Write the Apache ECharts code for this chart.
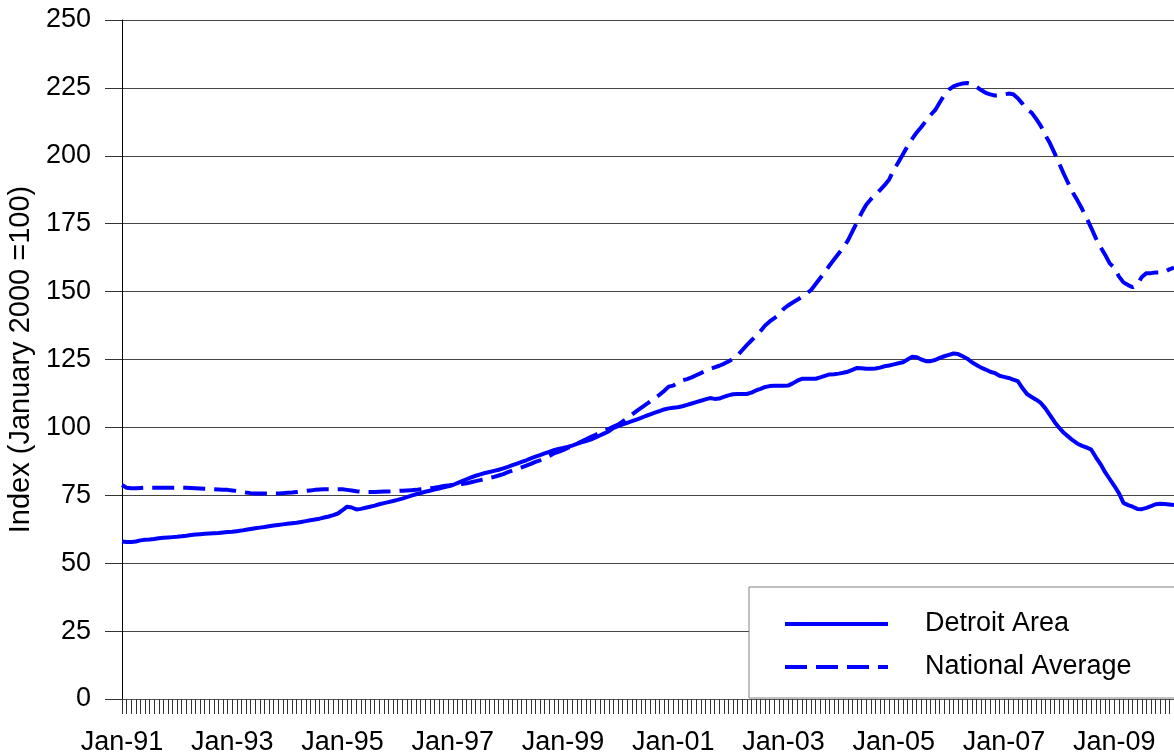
<!DOCTYPE html>
<html>
<head>
    <title>Detroit vs National home price index</title>
    <meta charset="utf-8"/>
    <script type="text/javascript" src="https://cdn.jsdelivr.net/npm/echarts@6/dist/echarts.min.js"></script>
    <style>
        html, body { margin: 0; padding: 0; background: #fff; }
        #chart { width: 1174px; height: 755px; }
    </style>
</head>
<body>
<div id="chart"></div>
<script type="text/javascript">
// month names and years used to build the category labels (Jan-91 .. Feb-10)
var monthNames = ['Jan', 'Feb', 'Mar', 'Apr', 'May', 'Jun', 'Jul', 'Aug', 'Sep', 'Oct', 'Nov', 'Dec'];
var firstYear = 1991;
var monthCount = 230;

// Detroit Area index, monthly
var detroitArea = [
    58.0, 57.8, 57.8, 58.0, 58.4, 58.6, 58.7, 58.9, 59.2, 59.4, 59.5, 59.6,
    59.7, 59.9, 60.1, 60.4, 60.6, 60.7, 60.8, 60.9, 61.0, 61.1, 61.3, 61.5,
    61.6, 61.8, 62.0, 62.3, 62.6, 62.9, 63.1, 63.3, 63.6, 63.9, 64.1, 64.3,
    64.5, 64.7, 64.9, 65.2, 65.5, 65.8, 66.1, 66.4, 66.8, 67.2, 67.7, 68.3,
    69.5, 70.8, 70.5, 69.8, 70.0, 70.4, 70.8, 71.2, 71.7, 72.1, 72.5, 72.9,
    73.3, 73.8, 74.3, 74.9, 75.4, 75.8, 76.3, 76.7, 77.1, 77.5, 77.9, 78.3,
    78.8, 79.5, 80.2, 80.9, 81.6, 82.2, 82.7, 83.2, 83.6, 84.0, 84.4, 84.9,
    85.5, 86.1, 86.7, 87.3, 87.9, 88.6, 89.2, 89.8, 90.4, 91.0, 91.6, 92.1,
    92.4, 92.8, 93.3, 93.9, 94.5, 95.0, 95.5, 96.2, 97.0, 97.8, 98.6, 99.8,
    100.5, 101.1, 101.7, 102.3, 102.9, 103.5, 104.2, 104.8, 105.4, 106.0, 106.6, 107.0,
    107.2, 107.4, 107.8, 108.3, 108.8, 109.3, 109.8, 110.3, 110.8, 110.5, 110.6, 111.2,
    111.8, 112.2, 112.3, 112.3, 112.3, 112.8, 113.6, 114.2, 114.9, 115.2, 115.3, 115.3,
    115.3, 115.4, 116.2, 117.2, 117.9, 117.9, 117.9, 117.9, 118.4, 119.0, 119.5, 119.6,
    119.8, 120.1, 120.5, 121.2, 121.9, 121.8, 121.6, 121.6, 121.7, 122.0, 122.5, 122.8,
    123.2, 123.6, 124.0, 125.0, 126.0, 125.8, 125.0, 124.4, 124.4, 124.8, 125.6, 126.2,
    126.7, 127.2, 127.0, 126.2, 125.3, 124.0, 123.0, 122.0, 121.3, 120.5, 120.0, 119.0,
    118.6, 118.2, 117.6, 117.0, 114.5, 112.3, 111.2, 110.2, 109.0, 107.0, 104.5, 102.0,
    99.9, 98.0, 96.6, 95.2, 94.0, 93.2, 92.6, 91.8, 89.0, 86.5, 83.5, 81.0,
    78.5, 75.8, 72.2, 71.4, 70.8, 70.0, 69.9, 70.4, 71.0, 71.7, 71.9, 71.8,
    71.6, 71.4
];

// National Average index, monthly
var nationalAverage = [
    78.8, 77.8, 77.6, 77.6, 77.7, 77.8, 77.8, 77.8, 77.8, 77.8, 77.8, 77.8,
    77.8, 77.8, 77.8, 77.7, 77.6, 77.5, 77.4, 77.3, 77.2, 77.1, 77.0, 77.0,
    76.8, 76.6, 76.3, 76.0, 75.8, 75.7, 75.7, 75.7, 75.7, 75.7, 75.7, 75.8,
    75.9, 76.0, 76.2, 76.4, 76.6, 76.8, 77.0, 77.1, 77.2, 77.2, 77.2, 77.2,
    77.2, 77.0, 76.8, 76.5, 76.3, 76.2, 76.2, 76.2, 76.3, 76.4, 76.4, 76.5,
    76.6, 76.7, 76.8, 76.9, 77.0, 77.2, 77.4, 77.6, 77.8, 78.1, 78.4, 78.6,
    78.8, 79.0, 79.2, 79.4, 79.8, 80.2, 80.6, 81.0, 81.4, 81.8, 82.3, 82.8,
    83.5, 84.1, 84.7, 85.3, 85.9, 86.6, 87.3, 87.9, 88.6, 89.5, 90.4, 91.0,
    91.6, 92.4, 93.2, 94.0, 94.8, 95.6, 96.4, 97.2, 98.0, 98.8, 99.5, 100.3,
    101.0, 102.2, 103.4, 104.7, 106.0, 107.2, 108.4, 109.6, 110.8, 112.0, 113.4, 115.0,
    115.4, 116.5, 117.3, 117.8, 118.4, 119.2, 120.0, 120.8, 121.5, 122.1, 122.7, 123.4,
    124.3, 125.2, 126.5, 128.4, 130.3, 132.0, 133.7, 135.5, 137.5, 139.0, 140.2, 141.5,
    143.6, 144.9, 146.0, 147.0, 148.0, 149.2, 150.6, 152.8, 155.0, 157.2, 159.6, 161.8,
    164.0, 166.2, 168.8, 172.2, 175.5, 179.0, 182.0, 184.0, 185.6, 187.4, 189.2, 191.3,
    194.8, 197.6, 200.6, 203.6, 206.2, 208.6, 210.6, 212.8, 215.0, 216.8, 219.6, 222.4,
    224.4, 225.6, 226.2, 226.6, 226.8, 226.4, 225.4, 224.2, 223.2, 222.6, 222.2, 222.3,
    222.6, 222.9, 222.7, 221.2, 219.2, 217.0, 215.9, 213.6, 211.0, 207.6, 204.6, 201.0,
    197.2, 193.4, 189.8, 186.4, 183.5, 180.4, 177.0, 173.4, 169.6, 166.4, 163.6, 160.4,
    158.8, 155.6, 153.4, 152.4, 151.6, 152.6, 155.4, 156.8, 156.8, 157.0, 157.0, 157.2,
    158.2, 158.8
];

var categories = [];
for (var i = 0; i < monthCount; i++) {
    var yy = (firstYear + Math.floor(i / 12)) % 100;
    categories.push(monthNames[i % 12] + '-' + (yy < 10 ? '0' + yy : '' + yy));
}

var fontFamily = '"Liberation Sans", Arial, sans-serif';
var blue = '#0000ff';

var myChart = echarts.init(document.getElementById('chart'), null, {renderer: 'canvas'});

var option = {
    animation: false,
    backgroundColor: '#fff',
    textStyle: {fontFamily: fontFamily},
    grid: {left: 122, right: 0, top: 20, bottom: 56, containLabel: false, outerBoundsMode: 'none'},
    legend: {
        orient: 'vertical',
        left: 749,
        top: 587,
        padding: [22, 120, 16, 34],
        itemWidth: 103,
        itemHeight: 20,
        itemGap: 13,
        backgroundColor: '#fff',
        borderColor: '#808080',
        borderWidth: 1,
        borderRadius: 0,
        itemStyle: {opacity: 0},
        lineStyle: {width: 4},
        textStyle: {
            fontFamily: fontFamily,
            fontSize: 27,
            lineHeight: 30,
            color: '#000',
            padding: [0, 0, 0, 32]
        },
        data: ['Detroit Area', 'National Average']
    },
    xAxis: {
        type: 'category',
        boundaryGap: false,
        data: categories,
        axisLine: {lineStyle: {color: '#555', width: 1}},
        axisTick: {
            interval: 0,
            length: 15,
            lineStyle: {color: '#333', width: 1}
        },
        axisLabel: {
            interval: function (idx) { return idx % 24 === 0; },
            fontSize: 27,
            fontFamily: fontFamily,
            color: '#000',
            margin: 30
        },
        splitLine: {show: false}
    },
    yAxis: {
        type: 'value',
        min: 0,
        max: 250,
        interval: 25,
        name: 'Index (January 2000 =100)',
        nameLocation: 'middle',
        nameGap: 78,
        nameTextStyle: {fontSize: 29, fontFamily: fontFamily, color: '#000'},
        axisLine: {show: true, lineStyle: {color: '#000', width: 1}},
        axisTick: {show: true, length: 17, lineStyle: {color: '#333'}},
        axisLabel: {fontSize: 27, fontFamily: fontFamily, color: '#000', margin: 31},
        splitLine: {lineStyle: {color: '#444', width: 1}}
    },
    series: [{
        name: 'Detroit Area',
        type: 'line',
        data: detroitArea,
        symbol: 'none',
        color: blue,
        lineStyle: {color: blue, width: 4}
    }, {
        name: 'National Average',
        type: 'line',
        data: nationalAverage,
        symbol: 'none',
        color: blue,
        lineStyle: {color: blue, width: 4, type: [22, 9]}
    }]
};

myChart.setOption(option);
</script>
</body>
</html>
